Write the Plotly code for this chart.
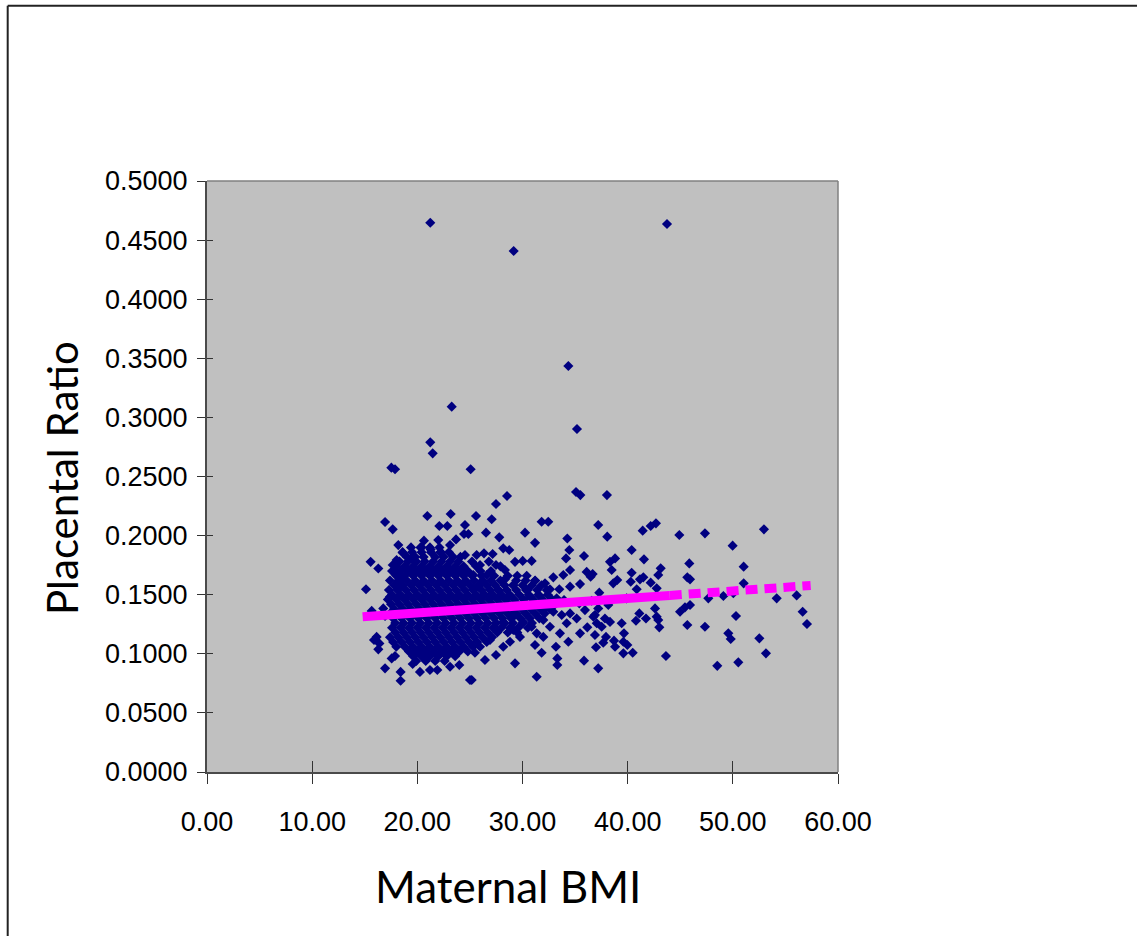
import plotly.graph_objects as go

# ---- scattered points (Maternal BMI, Placental Ratio) ----
bmi = [21.23, 29.16, 43.74, 34.36, 23.27, 35.18, 21.23, 21.46, 17.53, 17.88, 25.07, 28.53, 35.09, 35.50, 38.03,
       47.35, 52.96, 49.98, 51.03, 51.03, 47.67, 49.10, 50.05, 54.17, 56.07, 56.64, 57.05, 47.35, 50.30, 49.57,
       49.80, 52.52, 53.15, 50.52, 48.52, 37.20, 38.06, 41.43, 42.19, 42.69, 44.91, 40.38, 41.55, 38.32, 38.80,
       45.86, 43.14, 42.91, 45.67, 45.93, 36.67, 38.48, 38.63, 39.01, 40.38, 40.29, 41.17, 41.49, 42.19, 40.86,
       42.76, 37.30, 39.90, 45.93, 45.45, 44.98, 42.60, 41.11, 42.76, 41.74, 40.79, 42.91, 39.43, 43.01, 45.67,
       36.89, 39.65, 37.94, 37.68, 36.99, 38.70, 39.59, 38.80, 39.97, 39.59, 40.48, 43.64, 37.20, 36.74, 37.06,
       37.84, 38.16, 37.20, 38.32, 37.53, 27.48, 25.58, 27.07, 26.53, 27.79, 30.24, 31.82, 32.45, 31.19, 34.26,
       34.45, 35.85, 34.14, 25.64, 26.34, 27.16, 28.17, 28.74, 29.29, 30.02, 30.87, 28.33, 27.48, 25.96, 25.32,
       26.60, 34.52, 33.88, 36.10, 36.48, 32.93, 32.14, 31.19, 30.33, 32.61, 33.50, 34.52, 35.47, 28.33, 29.13,
       27.79, 25.80, 26.12, 26.91, 31.66, 30.71, 33.25, 33.95, 35.40, 36.58, 35.94, 35.15, 36.89, 36.16, 35.47,
       32.93, 33.73, 34.20, 34.36, 33.18, 33.31, 33.31, 35.85, 31.35, 29.29, 27.48, 26.43, 25.48, 25.17, 31.82,
       31.19, 31.98, 30.87, 29.76, 28.81, 28.17, 26.91, 25.96, 30.08, 29.13, 31.98, 32.61, 33.56, 28.17, 27.55,
       29.13, 31.35, 32.30, 34.52, 29.60, 28.50, 20.95, 23.17, 16.93, 17.66, 22.09, 22.85, 24.53, 24.85, 24.44,
       21.99, 20.63, 23.68, 23.11, 18.19, 18.61, 20.41, 21.27, 22.22, 15.56, 16.29, 17.66, 18.03, 19.46, 24.53,
       15.12, 17.88, 18.51, 17.40, 16.76, 15.66, 18.35, 16.13, 16.39, 15.88, 16.29, 17.56, 17.88, 16.93, 18.41,
       18.41, 19.56, 20.25, 21.20, 21.90, 23.11, 23.99, 25.01, 16.93]
ratio = [0.4647, 0.4408, 0.4636, 0.3435, 0.3091, 0.2902, 0.2789, 0.2696, 0.2575, 0.2561, 0.2561, 0.2335, 0.2369, 0.2343, 0.2343,
         0.2019, 0.2053, 0.1915, 0.1737, 0.1596, 0.1469, 0.1489, 0.1512, 0.1469, 0.1494, 0.1356, 0.1252, 0.1229, 0.1320, 0.1173,
         0.1125, 0.1131, 0.1004, 0.0928, 0.0898, 0.2090, 0.1991, 0.2042, 0.2081, 0.2104, 0.2005, 0.1878, 0.1799, 0.1778, 0.1807,
         0.1765, 0.1723, 0.1667, 0.1647, 0.1630, 0.1675, 0.1709, 0.1596, 0.1624, 0.1686, 0.1610, 0.1630, 0.1647, 0.1602, 0.1546,
         0.1554, 0.1517, 0.1469, 0.1413, 0.1393, 0.1356, 0.1384, 0.1342, 0.1314, 0.1299, 0.1280, 0.1286, 0.1258, 0.1224, 0.1244,
         0.1159, 0.1173, 0.1143, 0.1094, 0.1055, 0.1111, 0.1102, 0.1060, 0.1074, 0.1004, 0.1009, 0.0981, 0.0877, 0.1314, 0.1258,
         0.1299, 0.1413, 0.1384, 0.1270, 0.1229, 0.2267, 0.2166, 0.2138, 0.2025, 0.1985, 0.2025, 0.2117, 0.2117, 0.1939, 0.1975,
         0.1878, 0.1827, 0.1807, 0.1836, 0.1850, 0.1844, 0.1892, 0.1878, 0.1778, 0.1786, 0.1786, 0.1709, 0.1751, 0.1751, 0.1667,
         0.1667, 0.1709, 0.1667, 0.1693, 0.1652, 0.1647, 0.1596, 0.1617, 0.1540, 0.1546, 0.1546, 0.1568, 0.1590, 0.1630, 0.1582,
         0.1534, 0.1568, 0.1483, 0.1489, 0.1489, 0.1483, 0.1469, 0.1455, 0.1427, 0.1449, 0.1370, 0.1299, 0.1328, 0.1224, 0.1173,
         0.1356, 0.1328, 0.1258, 0.1102, 0.1060, 0.0961, 0.0905, 0.0942, 0.0806, 0.0919, 0.0990, 0.0948, 0.1009, 0.0778, 0.1009,
         0.1074, 0.1143, 0.1229, 0.1143, 0.1102, 0.1060, 0.1117, 0.1060, 0.1270, 0.1314, 0.1286, 0.1229, 0.1173, 0.1270, 0.1201,
         0.1201, 0.1173, 0.1398, 0.1342, 0.1413, 0.1398, 0.2166, 0.2183, 0.2115, 0.2053, 0.2081, 0.2081, 0.2090, 0.2014, 0.2014,
         0.1963, 0.1957, 0.1968, 0.1920, 0.1920, 0.1855, 0.1900, 0.1883, 0.1862, 0.1778, 0.1722, 0.1751, 0.1794, 0.1807, 0.1836,
         0.1546, 0.1681, 0.1638, 0.1483, 0.1384, 0.1363, 0.1568, 0.1143, 0.1088, 0.1117, 0.1038, 0.0961, 0.0981, 0.0877, 0.0847,
         0.0772, 0.0914, 0.0847, 0.0863, 0.0863, 0.0890, 0.0905, 0.0778, 0.1320]

# ---- dense core of the cloud, estimated row by row ----
core_ratio = [0.190, 0.186, 0.182, 0.178, 0.174, 0.170, 0.166, 0.162, 0.158, 0.154, 0.150, 0.146, 0.142,
              0.138, 0.134, 0.130, 0.126, 0.122, 0.118, 0.114, 0.110, 0.106, 0.102, 0.098, 0.094]
core_bmi = [
    [19.4, 20.3, 21.2, 22.1],
    [18.6, 19.5, 20.4, 21.3, 22.2, 23.0],
    [19.0, 19.8, 20.6, 21.7, 22.5, 23.4, 24.1],
    [18.3, 19.1, 19.9, 20.7, 21.5, 22.3, 23.1, 23.9, 25.2, 26.8],
    [18.0, 18.8, 19.6, 20.4, 21.2, 22.0, 22.8, 23.6, 24.4, 25.6, 27.9],
    [17.6, 18.4, 19.2, 20.0, 20.8, 21.6, 22.4, 23.2, 24.0, 24.8, 26.0, 27.0],
    [18.0, 18.8, 19.6, 20.4, 21.2, 22.0, 22.8, 23.6, 24.4, 25.2, 26.1, 27.3, 28.6, 29.5, 30.4],
    [17.4, 18.2, 19.0, 19.8, 20.6, 21.4, 22.2, 23.0, 23.8, 24.6, 25.4, 26.2, 27.0, 27.9, 29.4, 30.3, 31.2],
    [17.8, 18.6, 19.4, 20.2, 21.0, 21.8, 22.6, 23.4, 24.2, 25.0, 25.8, 26.6, 27.4, 28.3, 29.1, 30.0, 30.9, 31.8],
    [17.3, 18.1, 18.9, 19.7, 20.5, 21.3, 22.1, 22.9, 23.7, 24.5, 25.3, 26.1, 26.9, 27.7, 28.5, 29.4, 30.5, 31.4, 32.3],
    [17.6, 18.4, 19.2, 20.0, 20.8, 21.6, 22.4, 23.2, 24.0, 24.8, 25.6, 26.4, 27.2, 28.0, 28.8, 29.7, 30.6, 31.5, 32.4],
    [17.2, 18.0, 18.8, 19.6, 20.4, 21.2, 22.0, 22.8, 23.6, 24.4, 25.2, 26.0, 26.8, 27.6, 28.4, 29.2, 30.1, 31.0, 31.9, 32.8],
    [17.5, 18.3, 19.1, 19.9, 20.7, 21.5, 22.3, 23.1, 23.9, 24.7, 25.5, 26.3, 27.1, 27.9, 28.7, 29.5, 30.4, 31.3, 32.2, 33.1],
    [17.8, 18.6, 19.4, 20.2, 21.0, 21.8, 22.6, 23.4, 24.2, 25.0, 25.8, 26.6, 27.4, 28.2, 29.0, 29.9, 30.8, 31.7, 32.6],
    [17.4, 18.2, 19.0, 19.8, 20.6, 21.4, 22.2, 23.0, 23.8, 24.6, 25.4, 26.2, 27.0, 27.8, 28.6, 29.4, 30.3, 31.2, 32.1],
    [17.7, 18.5, 19.3, 20.1, 20.9, 21.7, 22.5, 23.3, 24.1, 24.9, 25.7, 26.5, 27.3, 28.1, 28.9, 29.8, 30.7, 31.6],
    [17.9, 18.7, 19.5, 20.3, 21.1, 21.9, 22.7, 23.5, 24.3, 25.1, 25.9, 26.7, 27.5, 28.3, 29.1, 30.0, 30.9],
    [17.6, 18.4, 19.2, 20.0, 20.8, 21.6, 22.4, 23.2, 24.0, 24.8, 25.6, 26.4, 27.2, 28.0, 28.8, 29.6, 30.5],
    [17.9, 18.7, 19.5, 20.3, 21.1, 21.9, 22.7, 23.5, 24.3, 25.1, 25.9, 26.7, 27.6, 28.6, 29.5],
    [17.4, 18.2, 19.0, 19.8, 20.6, 21.4, 22.2, 23.0, 23.8, 24.6, 25.4, 26.2, 27.1],
    [17.7, 18.5, 19.3, 20.1, 20.9, 21.7, 22.5, 23.3, 24.1, 24.9, 25.7, 26.6],
    [18.0, 18.8, 19.6, 20.4, 21.2, 22.0, 22.8, 23.6, 24.4, 25.3],
    [19.2, 20.0, 20.8, 21.6, 22.4, 23.2, 24.0, 24.8],
    [19.6, 20.4, 21.2, 22.0, 22.8, 23.6],
    [19.9, 20.8, 21.7, 22.6],
]

# ---- trend line ----
trend_solid_x = [14.8, 44.0]
trend_solid_y = [0.1314, 0.1494]
trend_dash_x = [44.0, 57.4]
trend_dash_y = [0.1494, 0.1578]

# tick labels
x_ticks = [0, 10, 20, 30, 40, 50, 60]
y_ticks = [0.0, 0.05, 0.10, 0.15, 0.20, 0.25, 0.30, 0.35, 0.40, 0.45, 0.50]

all_x = list(bmi)
all_y = list(ratio)
for yv, row in zip(core_ratio, core_bmi):
    all_x.extend(row)
    all_y.extend([yv] * len(row))

fig = go.Figure()
fig.add_trace(go.Scatter(x=all_x, y=all_y, mode="markers",
                         marker=dict(symbol="diamond", size=7.8, color="#000080", line=dict(width=0)),
                         showlegend=False, hoverinfo="skip"))
fig.add_trace(go.Scatter(x=trend_solid_x, y=trend_solid_y, mode="lines",
                         line=dict(color="#FF00FF", width=9), showlegend=False, hoverinfo="skip"))
fig.add_trace(go.Scatter(x=trend_dash_x, y=trend_dash_y, mode="lines",
                         line=dict(color="#FF00FF", width=9, dash="12px,7px"), showlegend=False, hoverinfo="skip"))
# invisible trace to anchor overlay axes (inner tick marks)
fig.add_trace(go.Scatter(x=[None], y=[None], xaxis="x2", yaxis="y2", showlegend=False, hoverinfo="skip"))

tickfont = dict(family="Liberation Sans, Arial, sans-serif", size=27, color="#000000")

L, R, T, B = 207, 838, 181, 772
W, H = 1146, 936

def px2paper_x(px):
    return (px - L) / (R - L)

def px2paper_y(py):
    return (B - py) / (B - T)

fig.update_layout(
    width=W, height=H,
    margin=dict(l=L, r=W - R, t=T, b=H - B, pad=0),
    paper_bgcolor="#FFFFFF",
    plot_bgcolor="#C0C0C0",
    xaxis=dict(range=[0, 60], tickvals=x_ticks, tickformat=".2f", showgrid=False, zeroline=False,
               showline=True, linecolor="#4a4a4a", linewidth=2, ticks="outside", ticklen=10,
               tickcolor="#333333", tickwidth=1.3, tickfont=tickfont, ticklabelstandoff=15),
    yaxis=dict(range=[0, 0.5], tickvals=y_ticks, tickformat=".4f", showgrid=False, zeroline=False,
               showline=True, linecolor="#4a4a4a", linewidth=2, ticks="outside", ticklen=8,
               tickcolor="#333333", tickwidth=1.3, tickfont=tickfont, ticklabelstandoff=4),
    xaxis2=dict(range=[0, 60], tickvals=x_ticks, overlaying="x", anchor="y", side="bottom",
                showticklabels=False, showgrid=False, zeroline=False, showline=False,
                ticks="inside", ticklen=11, tickcolor="#333333", tickwidth=1.3),
    yaxis2=dict(range=[0, 0.5], tickvals=y_ticks, overlaying="y", anchor="x", side="left",
                showticklabels=False, showgrid=False, zeroline=False, showline=False,
                ticks="inside", ticklen=6, tickcolor="#333333", tickwidth=1.3),
    font=dict(family="Liberation Sans, Arial, sans-serif"),
    shapes=[
        dict(type="line", xref="paper", yref="paper", x0=0, x1=1, y0=1, y1=1,
             line=dict(color="#808080", width=1.5)),
        dict(type="line", xref="paper", yref="paper", x0=1, x1=1, y0=0, y1=1,
             line=dict(color="#808080", width=1.5)),
        dict(type="line", xref="paper", yref="paper", x0=px2paper_x(7.7), x1=px2paper_x(1137),
             y0=px2paper_y(5.8), y1=px2paper_y(5.8), line=dict(color="#222222", width=2)),
        dict(type="line", xref="paper", yref="paper", x0=px2paper_x(7.7), x1=px2paper_x(7.7),
             y0=px2paper_y(5.8), y1=px2paper_y(940), line=dict(color="#222222", width=2)),
    ],
    annotations=[
        dict(text="Maternal BMI", xref="paper", yref="paper", x=px2paper_x(508), y=px2paper_y(886),
             xanchor="center", yanchor="middle", showarrow=False,
             font=dict(family="Lato, Liberation Sans, sans-serif", size=44, color="#000000")),
        dict(text="Placental Ratio", xref="paper", yref="paper", x=px2paper_x(62), y=px2paper_y(478),
             xanchor="center", yanchor="middle", showarrow=False, textangle=-90,
             font=dict(family="Lato, Liberation Sans, sans-serif", size=42, color="#000000")),
    ],
)

fig.write_html("out.html")
